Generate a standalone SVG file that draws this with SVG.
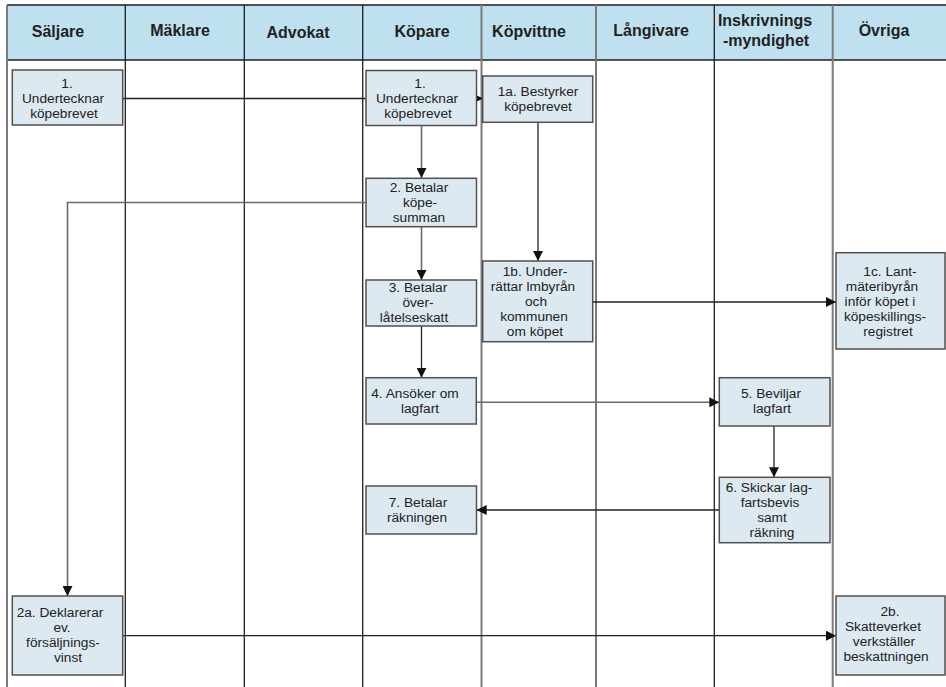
<svg xmlns="http://www.w3.org/2000/svg" width="946" height="687" viewBox="0 0 946 687">
<style>
.hdr{fill:#BFE1EF}
.hl{stroke:#1e1e1e;stroke-width:1.3;fill:none}
.lk{stroke:#1e1e1e;stroke-width:1.3}
.lg{stroke:#7a7a7a;stroke-width:2}
.ht{font-family:"Liberation Sans",Arial,sans-serif;font-size:16px;font-weight:bold;fill:#222;text-anchor:middle}
.box{fill:#DDE9F1;stroke:#505050;stroke-width:1.5}
.bt{font-family:"Liberation Sans",Arial,sans-serif;font-size:13.7px;fill:#222;text-anchor:middle}
.c{stroke:#222;stroke-width:1.3;fill:none}
.cg{stroke:#6a6a6a;stroke-width:1.6;fill:none}
</style>
<defs>
<marker id="ah" markerUnits="userSpaceOnUse" viewBox="0 0 10 10" refX="10" refY="5" markerWidth="10" markerHeight="10" orient="auto">
<path d="M0,0 L10,5 L0,10 z" fill="#111"/>
</marker>
</defs>
<rect width="946" height="687" fill="#fff"/>
<g id="lanes">
<rect class="hdr" x="7" y="5" width="939" height="55"/>
<line class="hl" x1="7" y1="5" x2="946" y2="5"/>
<line class="hl" x1="7" y1="60" x2="946" y2="60"/>
<line class="lg" x1="7" y1="5" x2="7" y2="687"/>
<line class="lk" x1="125.3" y1="5" x2="125.3" y2="687"/>
<line class="lk" x1="244.3" y1="5" x2="244.3" y2="687"/>
<line class="lk" x1="362.7" y1="5" x2="362.7" y2="687"/>
<line class="lg" x1="481.5" y1="5" x2="481.5" y2="687"/>
<line class="lg" x1="596" y1="5" x2="596" y2="687"/>
<line class="lk" x1="714.3" y1="5" x2="714.3" y2="687"/>
<line class="lg" x1="832.7" y1="5" x2="832.7" y2="687"/>
<text class="ht" x="58" y="37">Säljare</text>
<text class="ht" x="180" y="36">Mäklare</text>
<text class="ht" x="298" y="38">Advokat</text>
<text class="ht" x="422" y="37">Köpare</text>
<text class="ht" x="529" y="37">Köpvittne</text>
<text class="ht" x="651" y="36">Långivare</text>
<text class="ht" x="765" y="26">Inskrivnings</text>
<text class="ht" x="766" y="46">-myndighet</text>
<text class="ht" x="884" y="36">Övriga</text>
</g>
<g id="connectors">
<line class="c" x1="123" y1="98.5" x2="366" y2="98.5"/>
<line class="c" x1="474" y1="98.5" x2="483" y2="98.5" marker-end="url(#ah)"/>
<line class="cg" x1="421.5" y1="125" x2="421.5" y2="178" marker-end="url(#ah)"/>
<line class="c" x1="538" y1="122.5" x2="538" y2="261" marker-end="url(#ah)"/>
<polyline class="cg" points="366,202.5 67.5,202.5 67.5,596" marker-end="url(#ah)"/>
<line class="cg" x1="421.5" y1="226.7" x2="421.5" y2="280" marker-end="url(#ah)"/>
<line class="c" x1="592.7" y1="302" x2="836" y2="302" marker-end="url(#ah)"/>
<line class="c" x1="421.5" y1="326" x2="421.5" y2="377.7" marker-end="url(#ah)"/>
<line class="cg" x1="476" y1="402.3" x2="719.3" y2="402.3" marker-end="url(#ah)"/>
<line class="c" x1="774" y1="426" x2="774" y2="477.3" marker-end="url(#ah)"/>
<line class="c" x1="719.3" y1="510" x2="476.7" y2="510" marker-end="url(#ah)"/>
<line class="c" x1="122.7" y1="635.7" x2="836" y2="635.7" marker-end="url(#ah)"/>
</g>
<g id="s1">
<rect class="box" x="12.3" y="70" width="110.4" height="55"/>
<text class="bt" y="87.5"><tspan x="67">1.</tspan><tspan x="63" dy="15">Undertecknar</tspan><tspan x="64" dy="15">köpebrevet</tspan></text>
</g>
<g id="k1">
<rect class="box" x="366" y="70.5" width="110.5" height="55"/>
<text class="bt" y="88"><tspan x="420">1.</tspan><tspan x="417" dy="15">Undertecknar</tspan><tspan x="418" dy="15">köpebrevet</tspan></text>
</g>
<g id="v1a">
<rect class="box" x="482.7" y="76" width="110" height="46.3"/>
<text class="bt" y="96"><tspan x="538">1a. Bestyrker</tspan><tspan x="538" dy="15">köpebrevet</tspan></text>
</g>
<g id="k2">
<rect class="box" x="366" y="178.3" width="110.5" height="48.4"/>
<text class="bt" y="192"><tspan x="419">2. Betalar</tspan><tspan x="420" dy="15">köpe-</tspan><tspan x="419" dy="15">summan</tspan></text>
</g>
<g id="v1b">
<rect class="box" x="482.7" y="261" width="110" height="80.7"/>
<text class="bt" y="276"><tspan x="535">1b. Under-</tspan><tspan x="533" dy="15">rättar lmbyrån</tspan><tspan x="536" dy="15">och</tspan><tspan x="534" dy="15">kommunen</tspan><tspan x="535" dy="15">om köpet</tspan></text>
</g>
<g id="o1c">
<rect class="box" x="836" y="252.7" width="109" height="96.3"/>
<text class="bt" y="276"><tspan x="890">1c. Lant-</tspan><tspan x="882" dy="15">mäteribyrån</tspan><tspan x="880" dy="15">inför köpet i</tspan><tspan x="885" dy="15">köpeskillings-</tspan><tspan x="888" dy="15">registret</tspan></text>
</g>
<g id="k3">
<rect class="box" x="366" y="280" width="110.5" height="46"/>
<text class="bt" y="292"><tspan x="418">3. Betalar</tspan><tspan x="418" dy="15">över-</tspan><tspan x="414" dy="15">låtelseskatt</tspan></text>
</g>
<g id="k4">
<rect class="box" x="366" y="377.7" width="110.3" height="46.3"/>
<text class="bt" y="397.5"><tspan x="415">4. Ansöker om</tspan><tspan x="420" dy="15">lagfart</tspan></text>
</g>
<g id="i5">
<rect class="box" x="719.3" y="377.7" width="110.7" height="48.3"/>
<text class="bt" y="397.5"><tspan x="771">5. Beviljar</tspan><tspan x="772" dy="15">lagfart</tspan></text>
</g>
<g id="i6">
<rect class="box" x="719.3" y="477.3" width="110.7" height="65.4"/>
<text class="bt" y="492"><tspan x="769">6. Skickar lag-</tspan><tspan x="770" dy="15">fartsbevis</tspan><tspan x="772" dy="15">samt</tspan><tspan x="772" dy="15">räkning</tspan></text>
</g>
<g id="k7">
<rect class="box" x="366" y="486" width="110.5" height="48"/>
<text class="bt" y="507"><tspan x="418">7. Betalar</tspan><tspan x="417" dy="15">räkningen</tspan></text>
</g>
<g id="s2a">
<rect class="box" x="12.3" y="596" width="110.4" height="79"/>
<text class="bt" y="616.5"><tspan x="60">2a. Deklarerar</tspan><tspan x="62" dy="15">ev.</tspan><tspan x="63" dy="15">försäljnings-</tspan><tspan x="68" dy="15">vinst</tspan></text>
</g>
<g id="o2b">
<rect class="box" x="836" y="596" width="109" height="79"/>
<text class="bt" y="616"><tspan x="890">2b.</tspan><tspan x="883" dy="15">Skatteverket</tspan><tspan x="884" dy="15">verkställer</tspan><tspan x="886" dy="15">beskattningen</tspan></text>
</g>
</svg>
